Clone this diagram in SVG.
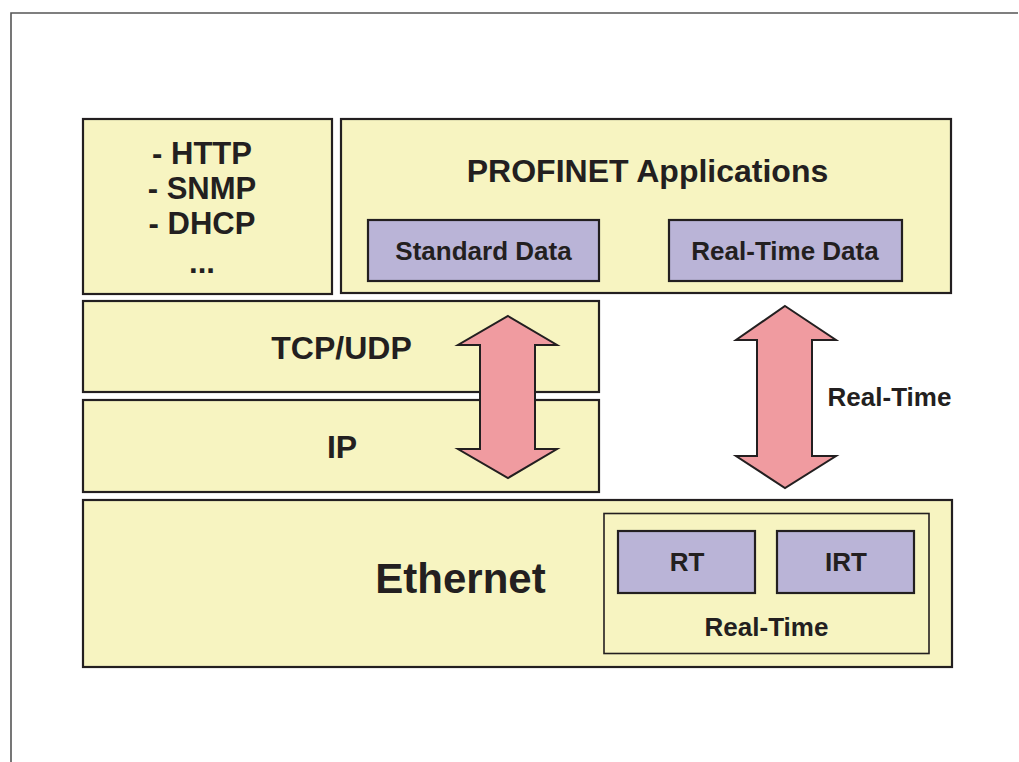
<svg xmlns="http://www.w3.org/2000/svg" width="1019" height="762" viewBox="0 0 1019 762">
<style>
.y{fill:#f7f4c1;stroke:#231f20;stroke-width:2.2}
.p{fill:#bab4d7;stroke:#231f20;stroke-width:2.2}
.a{fill:#f09ba0;stroke:#231f20;stroke-width:2;stroke-linejoin:miter}
text{font-family:"Liberation Sans",Arial,sans-serif;font-weight:bold;fill:#231f20;text-anchor:middle}
.t32{font-size:32px}
.t31{font-size:31px}
.t26{font-size:26px}
</style>
<rect width="1019" height="762" fill="#ffffff"/>
<g id="frame">
<path d="M11,762 V13 H1018" fill="none" stroke="#555555" stroke-width="1.6"/>
</g>
<g id="apps-left">
<rect class="y" x="83" y="119" width="249" height="175"/>
<text class="t31" x="202" y="164">- HTTP</text>
<text class="t31" x="202" y="199">- SNMP</text>
<text class="t31" x="202" y="234">- DHCP</text>
<text class="t31" x="202" y="273">...</text>
</g>
<g id="profinet">
<rect class="y" x="341" y="119" width="610" height="174"/>
<text class="t32" x="647.5" y="182">PROFINET Applications</text>
</g>
<g id="standard-data">
<rect class="p" x="368" y="220" width="231" height="61"/>
<text class="t26" x="483.5" y="260">Standard Data</text>
</g>
<g id="realtime-data">
<rect class="p" x="669" y="220" width="233" height="61"/>
<text class="t26" x="785" y="260">Real-Time Data</text>
</g>
<g id="tcpudp">
<rect class="y" x="83" y="301" width="516" height="91"/>
<text class="t32" x="341.5" y="359">TCP/UDP</text>
</g>
<g id="ip">
<rect class="y" x="83" y="400" width="516" height="92"/>
<text class="t32" x="342" y="458">IP</text>
</g>
<g id="ethernet">
<rect class="y" x="83" y="500" width="869" height="167"/>
<text x="460.5" y="593" style="font-size:42px">Ethernet</text>
</g>
<g id="realtime-inner">
<rect x="604" y="513.5" width="325" height="140" fill="#f7f4c1" stroke="#231f20" stroke-width="1.6"/>
<text class="t26" x="766.5" y="636">Real-Time</text>
</g>
<g id="rt">
<rect class="p" x="618" y="531" width="137" height="62"/>
<text class="t26" x="687" y="571">RT</text>
</g>
<g id="irt">
<rect class="p" x="777" y="531" width="137" height="62"/>
<text class="t26" x="846" y="571">IRT</text>
</g>
<g id="connectors">
<polygon class="a" points="508,316 557,345 535,345 535,449 557,449 508,478 458,449 480,449 480,345 458,345"/>
<polygon class="a" points="785,306 836,340 812,340 812,456 836,456 785,488 736,456 757,456 757,340 736,340"/>
</g>
<g id="realtime-label">
<text class="t26" x="889.5" y="406">Real-Time</text>
</g>
</svg>
